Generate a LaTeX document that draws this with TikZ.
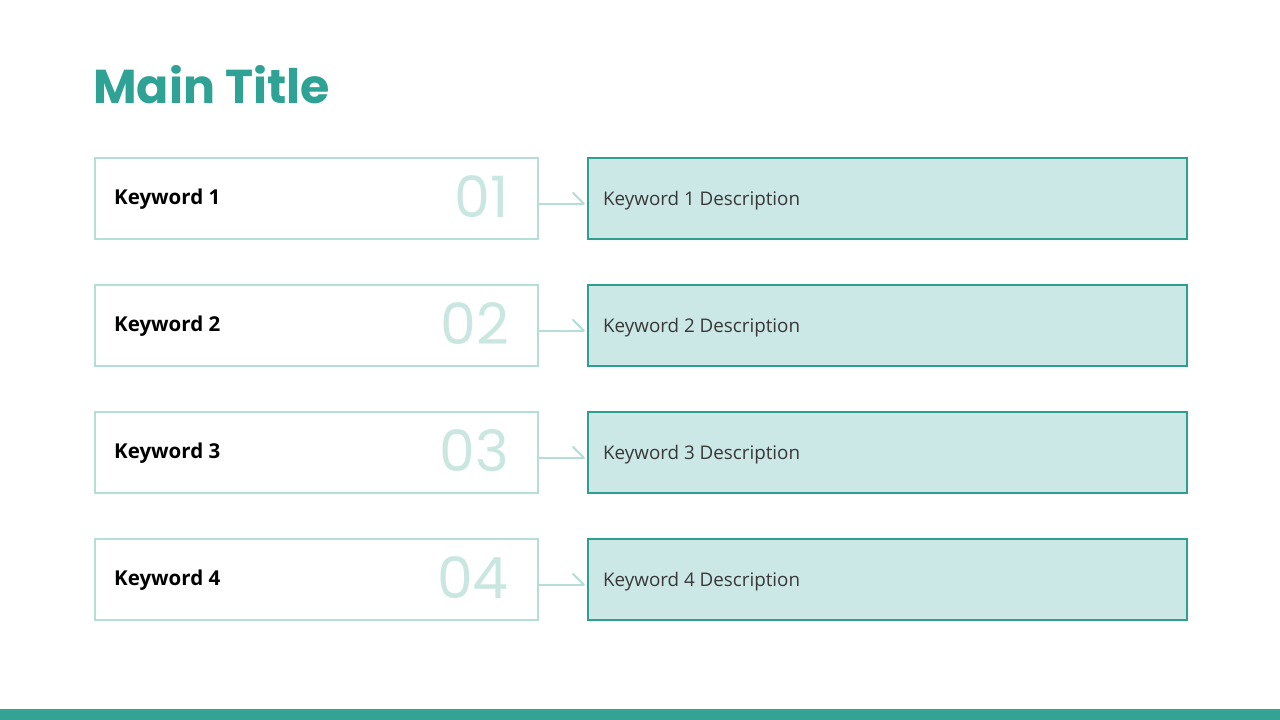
\documentclass[tikz,border=0pt]{standalone}
\usepackage{fontspec}
\setmainfont{Open Sans}
\newfontfamily\titlefont{Poppins}
\definecolor{teal}{HTML}{2EA294}
\definecolor{lightteal}{HTML}{B5DED6}
\definecolor{numcol}{HTML}{C9E7E0}
\definecolor{descfill}{HTML}{CCE8E6}
\definecolor{descline}{HTML}{2E9E8E}
\definecolor{bar}{HTML}{33A396}
\tikzset{
  keybox/.style={draw=lightteal, line width=1.8pt, fill=white, minimum width=443pt, minimum height=81pt, anchor=north west, inner sep=0pt},
  descbox/.style={draw=descline, line width=1.8pt, fill=descfill, minimum width=599pt, minimum height=81pt, anchor=north west, inner sep=0pt},
  keytext/.style={anchor=base west, inner sep=0pt, font=\fontsize{20.5}{24}\selectfont\bfseries, text=black},
  desctext/.style={anchor=base west, inner sep=0pt, font=\fontsize{18.8}{24}\selectfont, text=black!78},
  numtext/.style={anchor=east, inner sep=0pt, font=\titlefont\fontsize{57}{60}\selectfont, text=numcol},
  conn/.style={draw=lightteal, line width=2pt}
}
\begin{document}
\begin{tikzpicture}[x=1pt,y=-1pt]
\useasboundingbox[fill=white] (0,0) rectangle (1280,720);
\fill[bar] (0,709) rectangle (1280,720);
\node[anchor=base west, inner sep=0pt, text=teal, font=\titlefont\bfseries\fontsize{47.5}{50}\selectfont] (title) at (93,103) {Main Title};
\foreach \i/\n in {1/01,2/02,3/03,4/04}{
  \pgfmathsetmacro{\yy}{157+127*(\i-1)}
  \node[keybox] (k\i) at (94,\yy) {};
  \node[descbox] (d\i) at (587,\yy) {};
  \node[keytext] (kt\i) at (114,\yy+47) {Keyword \i};
  \node[desctext] (dt\i) at (603,\yy+48) {Keyword \i{} Description};
  \node[numtext] (n\i) at (509,\yy+40) {\n};
  \coordinate (e\i) at ([xshift=-3pt,yshift=-5.5pt]d\i.west);
  \draw[conn] ([yshift=-5.5pt]k\i.east) -- (e\i);
  \draw[conn, line cap=round] (e\i) -- ++(-11,-11);
}
\end{tikzpicture}
\end{document}
